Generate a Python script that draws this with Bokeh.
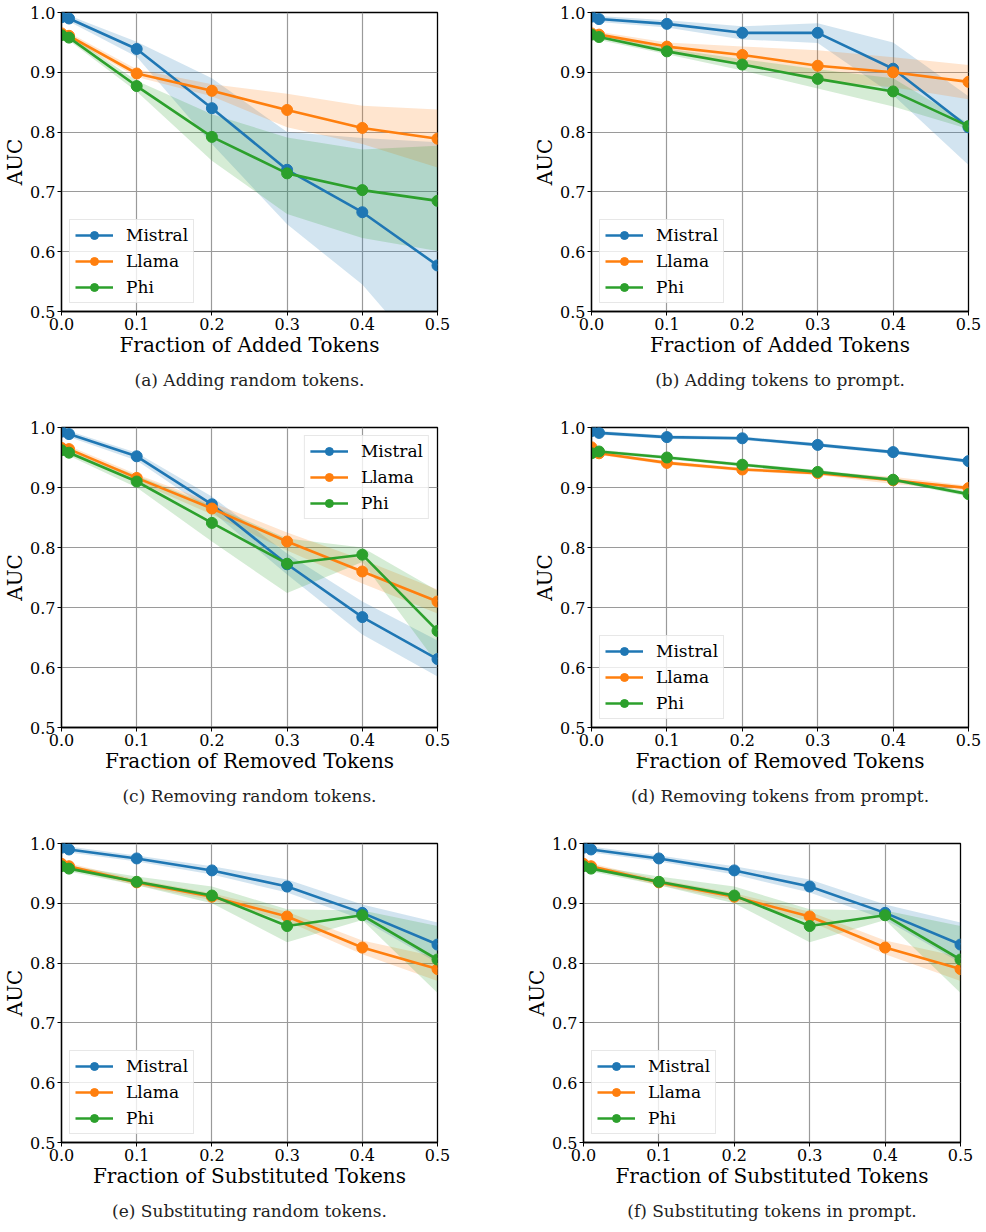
from bokeh.plotting import figure
from bokeh.models import Range1d, FixedTicker, Title
from bokeh.layouts import column, row
from bokeh.embed import file_html
from bokeh.resources import INLINE

# ---------------- data ----------------
X = [0.0, 0.01, 0.1, 0.2, 0.3, 0.4, 0.5]
X_TICKS = [0.0, 0.1, 0.2, 0.3, 0.4, 0.5]
X_TICK_LABELS = ["0.0", "0.1", "0.2", "0.3", "0.4", "0.5"]
Y_TICKS = [0.5, 0.6, 0.7, 0.8, 0.9, 1.0]
Y_TICK_LABELS = ["0.5", "0.6", "0.7", "0.8", "0.9", "1.0"]
MODELS = ["Mistral", "Llama", "Phi"]
COLORS = ["#1f77b4", "#ff7f0e", "#2ca02c"]

# (a) adding random tokens
A_MISTRAL = [0.992, 0.990, 0.939, 0.840, 0.737, 0.666, 0.577]
A_MISTRAL_LO = [0.986, 0.985, 0.926, 0.780, 0.646, 0.545, 0.400]
A_MISTRAL_HI = [0.998, 0.995, 0.951, 0.890, 0.800, 0.790, 0.783]
A_LLAMA = [0.965, 0.961, 0.898, 0.869, 0.837, 0.807, 0.789]
A_LLAMA_LO = [0.960, 0.956, 0.892, 0.860, 0.808, 0.780, 0.741]
A_LLAMA_HI = [0.970, 0.966, 0.905, 0.880, 0.864, 0.844, 0.838]
A_PHI = [0.962, 0.958, 0.877, 0.792, 0.731, 0.703, 0.685]
A_PHI_LO = [0.957, 0.953, 0.868, 0.752, 0.663, 0.623, 0.601]
A_PHI_HI = [0.967, 0.963, 0.886, 0.830, 0.791, 0.771, 0.777]

# (b) adding tokens to prompt
B_MISTRAL = [0.993, 0.989, 0.981, 0.966, 0.966, 0.906, 0.808]
B_MISTRAL_LO = [0.988, 0.984, 0.975, 0.955, 0.949, 0.862, 0.745]
B_MISTRAL_HI = [0.998, 0.994, 0.987, 0.977, 0.982, 0.950, 0.860]
B_LLAMA = [0.965, 0.963, 0.943, 0.929, 0.911, 0.900, 0.884]
B_LLAMA_LO = [0.960, 0.958, 0.935, 0.915, 0.885, 0.875, 0.855]
B_LLAMA_HI = [0.970, 0.968, 0.950, 0.943, 0.937, 0.925, 0.912]
B_PHI = [0.963, 0.959, 0.935, 0.913, 0.889, 0.868, 0.810]
B_PHI_LO = [0.958, 0.954, 0.930, 0.903, 0.873, 0.843, 0.805]
B_PHI_HI = [0.968, 0.964, 0.940, 0.922, 0.905, 0.890, 0.815]

# (c) removing random tokens
C_MISTRAL = [0.993, 0.989, 0.952, 0.872, 0.772, 0.684, 0.614]
C_MISTRAL_LO = [0.988, 0.984, 0.945, 0.860, 0.755, 0.655, 0.585]
C_MISTRAL_HI = [0.998, 0.994, 0.958, 0.885, 0.790, 0.710, 0.645]
C_LLAMA = [0.966, 0.964, 0.916, 0.865, 0.810, 0.760, 0.710]
C_LLAMA_LO = [0.961, 0.959, 0.910, 0.855, 0.795, 0.740, 0.690]
C_LLAMA_HI = [0.971, 0.969, 0.922, 0.875, 0.825, 0.780, 0.730]
C_PHI = [0.962, 0.958, 0.910, 0.841, 0.773, 0.788, 0.661]
C_PHI_LO = [0.957, 0.953, 0.900, 0.810, 0.724, 0.776, 0.606]
C_PHI_HI = [0.967, 0.963, 0.920, 0.870, 0.815, 0.800, 0.728]

# (d) removing tokens from prompt
D_MISTRAL = [0.994, 0.991, 0.984, 0.982, 0.971, 0.959, 0.944]
D_MISTRAL_LO = [0.991, 0.988, 0.981, 0.979, 0.968, 0.956, 0.941]
D_MISTRAL_HI = [0.997, 0.994, 0.987, 0.985, 0.974, 0.962, 0.947]
D_LLAMA = [0.967, 0.957, 0.941, 0.930, 0.924, 0.912, 0.899]
D_LLAMA_LO = [0.964, 0.954, 0.938, 0.927, 0.921, 0.906, 0.895]
D_LLAMA_HI = [0.970, 0.960, 0.944, 0.933, 0.927, 0.918, 0.903]
D_PHI = [0.957, 0.960, 0.950, 0.938, 0.926, 0.913, 0.889]
D_PHI_LO = [0.954, 0.957, 0.947, 0.935, 0.923, 0.910, 0.885]
D_PHI_HI = [0.960, 0.963, 0.953, 0.941, 0.929, 0.916, 0.893]

# (e) substituting random tokens
E_MISTRAL = [0.993, 0.990, 0.975, 0.955, 0.928, 0.884, 0.831]
E_MISTRAL_LO = [0.988, 0.985, 0.970, 0.948, 0.918, 0.873, 0.800]
E_MISTRAL_HI = [0.998, 0.995, 0.980, 0.962, 0.940, 0.898, 0.868]
E_LLAMA = [0.966, 0.962, 0.935, 0.911, 0.878, 0.826, 0.790]
E_LLAMA_LO = [0.961, 0.957, 0.930, 0.905, 0.870, 0.815, 0.770]
E_LLAMA_HI = [0.971, 0.967, 0.940, 0.917, 0.886, 0.838, 0.810]
E_PHI = [0.962, 0.958, 0.936, 0.913, 0.862, 0.880, 0.806]
E_PHI_LO = [0.957, 0.953, 0.930, 0.900, 0.835, 0.872, 0.750]
E_PHI_HI = [0.967, 0.963, 0.945, 0.928, 0.890, 0.888, 0.862]

# (f) substituting tokens in prompt
F_MISTRAL = [0.993, 0.990, 0.975, 0.955, 0.928, 0.884, 0.831]
F_MISTRAL_LO = [0.988, 0.985, 0.970, 0.948, 0.918, 0.873, 0.800]
F_MISTRAL_HI = [0.998, 0.995, 0.980, 0.962, 0.940, 0.898, 0.868]
F_LLAMA = [0.966, 0.962, 0.935, 0.911, 0.878, 0.826, 0.790]
F_LLAMA_LO = [0.961, 0.957, 0.930, 0.905, 0.870, 0.815, 0.770]
F_LLAMA_HI = [0.971, 0.967, 0.940, 0.917, 0.886, 0.838, 0.810]
F_PHI = [0.962, 0.958, 0.936, 0.913, 0.862, 0.880, 0.806]
F_PHI_LO = [0.957, 0.953, 0.930, 0.900, 0.835, 0.872, 0.750]
F_PHI_HI = [0.967, 0.963, 0.945, 0.928, 0.890, 0.888, 0.862]

FONT = "DejaVu Serif, serif"


def make_panel(series, xlabel, caption, legend_loc, width, height,
               bl, br, bt, bb):
    p = figure(width=width, height=height, output_backend="svg",
               toolbar_location=None, x_range=Range1d(0.0, 0.5),
               y_range=Range1d(0.5, 1.0),
               min_border_left=bl, min_border_right=br,
               min_border_top=bt, min_border_bottom=bb,
               background_fill_color="white", border_fill_color="white")
    p.outline_line_color = "black"
    p.outline_line_width = 1.3
    p.grid.grid_line_color = "#9a9a9a"
    p.grid.grid_line_width = 1.2

    p.xaxis.ticker = FixedTicker(ticks=X_TICKS)
    p.xaxis.major_label_overrides = dict(zip(X_TICKS, X_TICK_LABELS))
    p.yaxis.ticker = FixedTicker(ticks=Y_TICKS)
    p.yaxis.major_label_overrides = dict(zip(Y_TICKS, Y_TICK_LABELS))
    p.xaxis.axis_label = xlabel
    p.yaxis.axis_label = "AUC"
    for ax in (p.xaxis[0], p.yaxis[0]):
        ax.axis_label_text_font = FONT
        ax.axis_label_text_font_size = "20px"
        ax.axis_label_text_font_style = "normal"
        ax.axis_label_text_color = "black"
        ax.major_label_text_font = FONT
        ax.major_label_text_font_size = "16px"
        ax.major_label_text_color = "black"
        ax.axis_line_color = "black"
        ax.axis_line_width = 1.3
        ax.major_tick_line_color = "black"
        ax.major_tick_in = 0
        ax.major_tick_out = 4
        ax.minor_tick_line_color = None
        ax.major_label_standoff = 2
        ax.axis_label_standoff = 0

    for (name, color, mean, lo, hi) in series:
        p.varea(x=X, y1=lo, y2=hi, fill_color=color, fill_alpha=0.2)
    for (name, color, mean, lo, hi) in series:
        p.line(x=X, y=mean, line_color=color, line_width=2.6,
               legend_label=name)
        p.scatter(x=X, y=mean, size=11, fill_color=color, line_color=color,
                  legend_label=name)

    lg = p.legend[0]
    lg.location = legend_loc
    lg.label_text_font = FONT
    lg.label_text_font_size = "17px"
    lg.label_text_color = "black"
    lg.glyph_width = 38
    lg.glyph_height = 20
    lg.label_standoff = 13
    lg.spacing = 6
    lg.padding = 5
    lg.margin = 8
    lg.border_line_color = "#d0d0d0"
    lg.background_fill_alpha = 0.8

    t = Title(text=caption, align="center", text_font=FONT,
              text_font_size="17px", text_font_style="normal",
              text_color="#222222", standoff=17)
    p.add_layout(t, "below")
    return p


def series_of(m, m_lo, m_hi, l, l_lo, l_hi, ph, ph_lo, ph_hi):
    return [(MODELS[0], COLORS[0], m, m_lo, m_hi),
            (MODELS[1], COLORS[1], l, l_lo, l_hi),
            (MODELS[2], COLORS[2], ph, ph_lo, ph_hi)]


pa = make_panel(series_of(A_MISTRAL, A_MISTRAL_LO, A_MISTRAL_HI, A_LLAMA, A_LLAMA_LO, A_LLAMA_HI, A_PHI, A_PHI_LO, A_PHI_HI),
                "Fraction of Added Tokens", "(a) Adding random tokens.", "bottom_left",
                520, 410, 61, 83, 12, 99)
pb = make_panel(series_of(B_MISTRAL, B_MISTRAL_LO, B_MISTRAL_HI, B_LLAMA, B_LLAMA_LO, B_LLAMA_HI, B_PHI, B_PHI_LO, B_PHI_HI),
                "Fraction of Added Tokens", "(b) Adding tokens to prompt.", "bottom_left",
                464, 410, 71, 16, 12, 99)
pc = make_panel(series_of(C_MISTRAL, C_MISTRAL_LO, C_MISTRAL_HI, C_LLAMA, C_LLAMA_LO, C_LLAMA_HI, C_PHI, C_PHI_LO, C_PHI_HI),
                "Fraction of Removed Tokens", "(c) Removing random tokens.", "top_right",
                520, 416, 61, 83, 17, 99)
pd_ = make_panel(series_of(D_MISTRAL, D_MISTRAL_LO, D_MISTRAL_HI, D_LLAMA, D_LLAMA_LO, D_LLAMA_HI, D_PHI, D_PHI_LO, D_PHI_HI),
                 "Fraction of Removed Tokens", "(d) Removing tokens from prompt.", "bottom_left",
                 464, 416, 71, 16, 17, 99)
pe = make_panel(series_of(E_MISTRAL, E_MISTRAL_LO, E_MISTRAL_HI, E_LLAMA, E_LLAMA_LO, E_LLAMA_HI, E_PHI, E_PHI_LO, E_PHI_HI),
                "Fraction of Substituted Tokens", "(e) Substituting random tokens.", "bottom_left",
                520, 404, 61, 83, 17, 88)
pf = make_panel(series_of(F_MISTRAL, F_MISTRAL_LO, F_MISTRAL_HI, F_LLAMA, F_LLAMA_LO, F_LLAMA_HI, F_PHI, F_PHI_LO, F_PHI_HI),
                "Fraction of Substituted Tokens", "(f) Substituting tokens in prompt.", "bottom_left",
                464, 404, 63, 24, 17, 88)

layout = column(row(pa, pb), row(pc, pd_), row(pe, pf))

open("out.html", "w").write(file_html(layout, INLINE))
